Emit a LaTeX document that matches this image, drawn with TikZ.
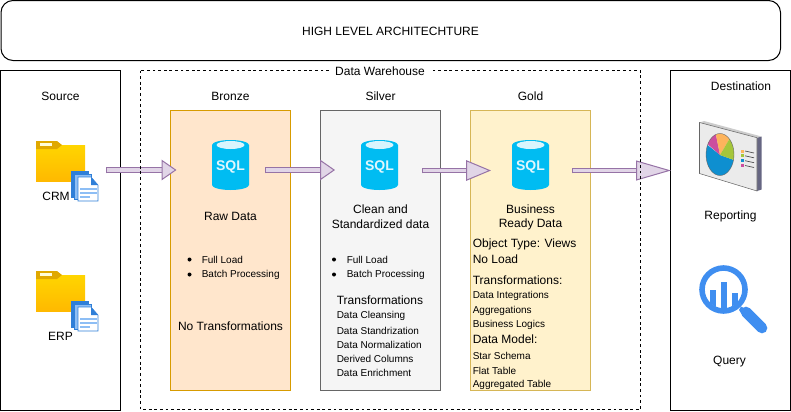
\documentclass[tikz,border=0pt]{standalone}
\usepackage{fontspec}
\setmainfont{Liberation Sans}
\usetikzlibrary{arrows.meta}
\definecolor{bronzefill}{HTML}{FFE6CC}
\definecolor{bronzeline}{HTML}{D79B00}
\definecolor{silverfill}{HTML}{F5F5F5}
\definecolor{silverline}{HTML}{666666}
\definecolor{goldfill}{HTML}{FFF2CC}
\definecolor{goldline}{HTML}{D6B656}
\definecolor{flowfill}{HTML}{E1D5E7}
\definecolor{flowline}{HTML}{9673A6}
\definecolor{sqlblue}{HTML}{00BCF2}
\definecolor{lensblue}{HTML}{3F8EF0}
\definecolor{foldertop}{HTML}{FFD500}
\definecolor{folderend}{HTML}{FFB900}
\definecolor{foldertab}{HTML}{E0A800}
\definecolor{pagedark}{HTML}{2F7FD8}
\definecolor{pagelight}{HTML}{8DBEF5}
\definecolor{pieblue}{HTML}{0E8FD0}
\definecolor{pieorange}{HTML}{FDB45C}
\definecolor{piegreen}{HTML}{A5C63B}
\definecolor{piepink}{HTML}{CC4E9E}
\tikzset{
    areabox/.style={draw=black,line width=0.75pt},
    layerbox/.style={line width=0.75pt},
    bigtext/.style={font=\fontsize{9}{11}\selectfont,inner sep=0pt,align=center,yshift=-0.5pt},
    smalltext/.style={font=\fontsize{7.5}{9}\selectfont,inner sep=0pt,anchor=west,yshift=-0.4pt},
    leftbig/.style={bigtext,anchor=west},
    bulletdot/.style={circle,fill=black,inner sep=0pt,minimum size=3pt},
    flowarrow/.style={draw=flowline,line width=0.75pt,double=flowfill,double distance=#1},
    flowarrow/.default=3.6pt,
    sqlcan/.pic={
        \fill[sqlblue] (-18.5,-20) arc (180:360:18.5 and 5) -- (18.5,20) arc (0:180:18.5 and 5) -- cycle;
        \fill[white!85!sqlblue] (0,-20) ellipse (14 and 4);
        \node[text=white!88!sqlblue,inner sep=0pt,font=\fontsize{10.5}{12}\bfseries\selectfont] at (0,2) {SQL};
    },
    folderdoc/.pic={
        \fill[top color=foldertop,bottom color=folderend] (0,4) -- (49,4) -- (49,40) -- (0,40) -- cycle;
        \fill[foldertab] (0,0) -- (21,0) -- (26,4) -- (21,8) -- (0,8) -- cycle;
        \fill[white!85!yellow] (4,2.2) rectangle (16,4.5);
        \fill[pagedark,draw=pagedark] (35,30) rectangle (52,56);
        \fill[pagelight,draw=pagedark] (38,33) rectangle (55,58);
        \fill[white,draw=pagedark] (42,36) -- (55,36) -- (62,44) -- (62,60) -- (42,60) -- cycle;
        \fill[pagedark] (55,36) -- (62,44) -- (55,44) -- cycle;
        \foreach \y/\w in {47/17,51/17,55/10} \fill[pagelight] (44,\y) rectangle ++(\w,1.8);
    }
}
\begin{document}
\begin{tikzpicture}[x=0.75pt,y=-0.75pt]
    \useasboundingbox (0,0) rectangle (791,411);
    %% Frames
    \draw[areabox,rounded corners=9pt] (1,0.5) rectangle (780.5,60.5);
    \node[bigtext] (title) at (390.5,30.5) {HIGH LEVEL ARCHITECHTURE};
    \draw[areabox] (0.5,70.5) rectangle (120.5,410);
    \draw[areabox] (670.5,70.5) rectangle (790.5,410);
    %% Layers
    \draw[layerbox,draw=bronzeline,fill=bronzefill] (170.5,110.5) rectangle (290.5,390.5);
    \draw[layerbox,draw=silverline,fill=silverfill] (320.5,110.5) rectangle (440.5,390.5);
    \draw[layerbox,draw=goldline,fill=goldfill] (470.5,110.5) rectangle (590.5,390.5);
    %% Arrows
    \coordinate (crmout) at (106,170);
    \coordinate (bronzein) at (176.5,170);
    \coordinate (bronzeout) at (265,170);
    \coordinate (silverin) at (335,170);
    \coordinate (silverout) at (421.5,170.5);
    \coordinate (goldin) at (491,170.5);
    \coordinate (goldout) at (571.5,170.5);
    \coordinate (destin) at (671,170.5);
    \draw[flowarrow,{Bar[width=5.1pt,color=flowline]}-{Triangle[length=11.25pt,width=15.5pt,fill=flowfill,color=flowline]}] (crmout) -- (bronzein);
    \draw[flowarrow,{Bar[width=5.1pt,color=flowline]}-{Triangle[length=11.25pt,width=15.5pt,fill=flowfill,color=flowline]}] (bronzeout) -- (silverin);
    \draw[flowarrow=2.8pt,{Bar[width=4.3pt,color=flowline]}-{Triangle[length=18.75pt,width=15.5pt,fill=flowfill,color=flowline]}] (silverout) -- (goldin);
    \draw[flowarrow=2.8pt,{Bar[width=4.3pt,color=flowline]}-{Triangle[length=26.25pt,width=15pt,fill=flowfill,color=flowline]}] (goldout) -- (destin);
    %% Warehouse
    \draw[line width=0.75pt,dash pattern=on 2.1pt off 2.1pt] (140.5,70.5) rectangle (640.5,409.5);
    \node[bigtext,fill=white,inner xsep=4pt,inner ysep=2pt] (warehouse) at (380,70.5) {Data Warehouse};
    %% Source
    \node[bigtext] (source) at (60.5,95.5) {Source};
    \pic at (36,141) {folderdoc};
    \pic at (36,271) {folderdoc};
    \node[bigtext] (crm) at (56,196) {CRM};
    \node[bigtext] (erp) at (60.5,336) {ERP};
    %% Bronze
    \node[bigtext] (bronze) at (230.5,95.5) {Bronze};
    \pic at (230.5,165) {sqlcan};
    \node[bigtext] (rawdata) at (230.5,215.5) {Raw Data};
    \node[bulletdot] (bdot1) at (189.5,259.5) {};
    \node[bulletdot] (bdot2) at (189.5,274.5) {};
    \node[smalltext] (bfull) at (201.5,259.5) {Full Load};
    \node[smalltext] (bbatch) at (201.5,274.5) {Batch Processing};
    \node[bigtext] (bnone) at (230.5,325.5) {No Transformations};
    %% Silver
    \node[bigtext] (silver) at (380.5,95.5) {Silver};
    \pic at (379.5,165) {sqlcan};
    \node[bigtext] (sclean) at (380.5,209) {Clean and};
    \node[bigtext] (sstd) at (380.5,224) {Standardized data};
    \node[bulletdot] (sdot1) at (334,259.5) {};
    \node[bulletdot] (sdot2) at (334,274.5) {};
    \node[smalltext] (sfull) at (346.5,259.5) {Full Load};
    \node[smalltext] (sbatch) at (346.5,274.5) {Batch Processing};
    \node[leftbig] (strans) at (336.5,299.5) {Transformations};
    \foreach \y/\t in {315.5/Data Cleansing,330/Data Standrization,344.5/Data Normalization,358.5/Derived Columns,372.5/Data Enrichment}
        \node[smalltext] at (336.5,\y) {\t};
    %% Gold
    \node[bigtext] (gold) at (530.5,95.5) {Gold};
    \pic at (530.5,165) {sqlcan};
    \node[bigtext] (gbus) at (530.5,209) {Business};
    \node[bigtext] (gready) at (530.5,224) {Ready Data};
    \node[leftbig] (gtype) at (472.5,243.5) {Object Type: Views};
    \node[leftbig] (gload) at (472.5,258.5) {No Load};
    \node[leftbig] (gtrans) at (472.5,280) {Transformations:};
    \node[leftbig] (gmodel) at (472.5,339) {Data Model:};
    \foreach \y/\t in {295/Data Integrations,310/Aggregations,324/Business Logics,355/Star Schema,370/Flat Table,384/Aggregated Table}
        \node[smalltext] at (472.5,\y) {\t};
    %% Destination
    \node[bigtext] (dest) at (741,86) {Destination};
    \node[bigtext] (report) at (730.5,216) {Reporting};
    \node[bigtext] (query) at (729.5,361) {Query};
    %% Report board
    \fill[black!45!blue!20!gray] (757,137.7) -- (761.5,136.5) -- (761.5,189.5) -- (757,191) -- cycle;
    \fill[black!20!white] (699.5,122.5) -- (704,121) -- (761.5,136.5) -- (757,137.7) -- cycle;
    \fill[blue!3!black!8!white,draw=black!60,line width=0.4pt] (699.5,122.5) -- (757,137.7) -- (757,191) -- (699.5,173.5) -- cycle;
    \begin{scope}
        \clip (720,154.5) ellipse (14 and 21);
        \fill[pieblue] (720,155) -- (745,164) -- (745,190) -- (695,190) -- (695,135) -- cycle;
        \fill[piepink] (720,155) -- (695,133) -- (714,125) -- cycle;
        \fill[pieorange] (720,155) -- (714,125) -- (735,125) -- (730,138) -- cycle;
        \fill[piegreen] (720,155) -- (730,138) -- (745,130) -- (745,164) -- cycle;
    \end{scope}
    \draw[black!60,line width=0.3pt] (720,154.5) ellipse (14 and 21);
    \foreach \y/\c in {151/pieorange,155.8/piegreen,160.7/pieblue,165.5/piepink} {
        \fill[\c] (740.5,\y-1.5) rectangle ++(3,3);
        \draw[black!70,line width=0.5pt] (745,\y) -- ++(9,2);
    }
    %% Lens
    \draw[lensblue,line width=4.2pt] (723.5,289.5) circle (21.5);
    \draw[lensblue,line width=8pt,line cap=round] (746,312) -- (762,328);
    \fill[lensblue] (741,306.5) -- (748,310) -- (743,316) -- (739,310) -- cycle;
    \begin{scope}
        \clip (723.5,289.5) circle (19);
        \fill[lensblue] (710,289.5) rectangle (716,310);
        \fill[lensblue] (721,281.5) rectangle (727,310);
        \fill[lensblue] (732,293) rectangle (738,310);
    \end{scope}
\end{tikzpicture}
\end{document}
